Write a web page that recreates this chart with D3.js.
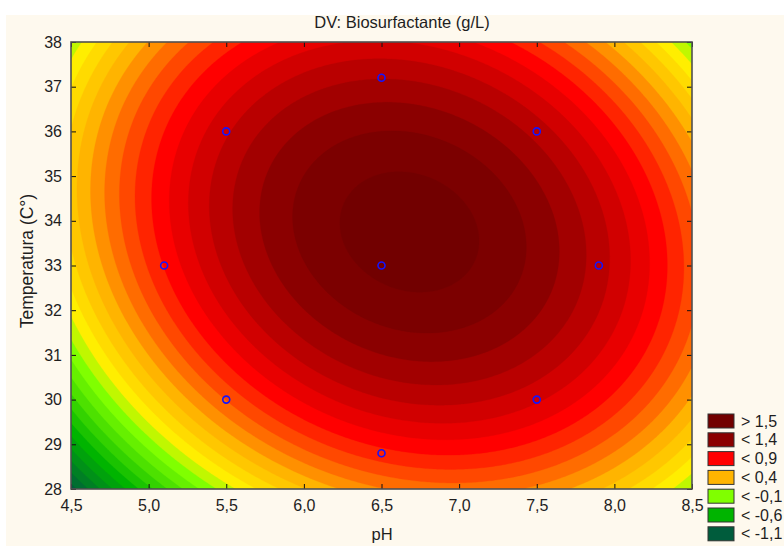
<!DOCTYPE html>
<html>
<head>
<meta charset="utf-8">
<script src="https://cdn.jsdelivr.net/npm/d3@7"></script>
<style>
  body { margin: 0; background: #ffffff; }
  text { font-family: "Liberation Sans", Arial, sans-serif; fill: #1e1e1e; }
</style>
</head>
<body>
<div id="chart"></div>
<script>
// fitted response surface (centred quadratic)
const surfaceCenter = [6.68, 33.75];            // pH, temperature of the peak
const surfaceCoef = [1.555, 0.28, 0.031, 0.028]; // peak, pH^2, T^2, pH*T

// contour levels (g/L)
const levels = [-1.1, -1.0, -0.9, -0.8, -0.7, -0.6, -0.5, -0.4, -0.3, -0.2, -0.1,
  0.0, 0.1, 0.2, 0.3, 0.4, 0.5, 0.6, 0.7, 0.8, 0.9, 1.0, 1.1, 1.2, 1.3, 1.4, 1.5];

// experimental design points
const designPH = [5.1, 5.5, 5.5, 6.5, 6.5, 6.5, 7.5, 7.5, 7.9];
const designT = [33, 30, 36, 28.8, 33, 37.2, 30, 36, 33];

// axis ticks
const phTicks = [4.5, 5.0, 5.5, 6.0, 6.5, 7.0, 7.5, 8.0, 8.5];
const tempTicks = [28, 29, 30, 31, 32, 33, 34, 35, 36, 37, 38];

// legend
const legendValues = [1.5, 1.4, 0.9, 0.4, -0.1, -0.6, -1.1];
const legendLabels = ["> 1,5", "< 1,4", "< 0,9", "< 0,4", "< -0,1", "< -0,6", "< -1,1"];

const WIDTH = 784;
const HEIGHT = 546;
const PLOT_LEFT = 71, PLOT_RIGHT = 692, PLOT_TOP = 42, PLOT_BOTTOM = 489;
const plotW = PLOT_RIGHT - PLOT_LEFT, plotH = PLOT_BOTTOM - PLOT_TOP;

const svg = d3.select("#chart")
  .append("svg")
  .attr("width", WIDTH)
  .attr("height", HEIGHT);

svg.append("rect")
  .attr("x", 6).attr("y", 15)
  .attr("width", WIDTH - 6).attr("height", HEIGHT - 15)
  .attr("fill", "#fef9ee");

const xScale = d3.scaleLinear().domain([4.5, 8.5]).range([PLOT_LEFT, PLOT_RIGHT]);
const yScale = d3.scaleLinear().domain([28, 38]).range([PLOT_BOTTOM, PLOT_TOP]);

// band colour by upper bound of the band
const bandColor = d3.scaleLinear()
  .domain([-1.1, -0.6, -0.1, 0.1, 0.4, 0.9, 1.4, 1.5])
  .range(["#005c3c", "#00b400", "#80ff00", "#ffee00", "#ffb400", "#ff0000", "#8b0000", "#7c0000"])
  .clamp(true);
const topColor = "#720000";

function surface(ph, t) {
  const u = ph - surfaceCenter[0];
  const v = t - surfaceCenter[1];
  return surfaceCoef[0] - surfaceCoef[1] * u * u - surfaceCoef[2] * v * v - surfaceCoef[3] * u * v;
}

// sample the surface on a grid over the plot area
const nx = 311, ny = 224;
const values = new Array(nx * ny);
for (let j = 0; j < ny; j++) {
  for (let i = 0; i < nx; i++) {
    const ph = xScale.invert(PLOT_LEFT + (i + 0.5) / nx * plotW);
    const t = yScale.invert(PLOT_TOP + (j + 0.5) / ny * plotH);
    values[j * nx + i] = surface(ph, t);
  }
}

const contours = d3.contours().size([nx, ny]).thresholds(levels)(values);

svg.append("clipPath").attr("id", "plot-clip")
  .append("rect").attr("x", PLOT_LEFT).attr("y", PLOT_TOP).attr("width", plotW).attr("height", plotH);

const plot = svg.append("g").attr("clip-path", "url(#plot-clip)");

plot.append("rect")
  .attr("x", PLOT_LEFT).attr("y", PLOT_TOP).attr("width", plotW).attr("height", plotH)
  .attr("fill", bandColor(-1.1));

const path = d3.geoPath(d3.geoIdentity().scale(plotW / nx));
const scaleY = plotH / ny / (plotW / nx);

plot.append("g")
  .attr("transform", `translate(${PLOT_LEFT},${PLOT_TOP}) scale(1,${scaleY})`)
  .selectAll("path")
  .data(contours)
  .enter()
  .append("path")
  .attr("d", path)
  .attr("fill", (d, i) => (i + 1 < levels.length ? bandColor(levels[i + 1]) : topColor))
  .attr("stroke", (d, i) => (i + 1 < levels.length ? bandColor(levels[i + 1]) : topColor))
  .attr("stroke-width", 0.3);

// design points
svg.append("g")
  .selectAll("circle")
  .data(designPH)
  .enter()
  .append("circle")
  .attr("cx", (d) => xScale(d))
  .attr("cy", (d, i) => yScale(designT[i]))
  .attr("r", 3.5)
  .attr("fill", "none")
  .attr("stroke", "#1414ff")
  .attr("stroke-width", 1.6);

// axes (ticks pointing inwards on all sides)
const fmt = (d) => d3.format(".1f")(d).replace(".", ",");

svg.append("g")
  .attr("transform", `translate(0,${PLOT_BOTTOM})`)
  .call(d3.axisBottom(xScale).tickValues(phTicks).tickFormat(fmt).tickSize(-5).tickPadding(11));
svg.append("g")
  .attr("transform", `translate(0,${PLOT_TOP})`)
  .call(d3.axisTop(xScale).tickValues(phTicks).tickFormat("").tickSize(-5));
svg.append("g")
  .attr("transform", `translate(${PLOT_LEFT},0)`)
  .call(d3.axisLeft(yScale).tickValues(tempTicks).tickSize(-5).tickPadding(9));
svg.append("g")
  .attr("transform", `translate(${PLOT_RIGHT},0)`)
  .call(d3.axisRight(yScale).tickValues(tempTicks).tickFormat("").tickSize(-5));

svg.selectAll(".domain").remove();
svg.selectAll(".tick line").attr("stroke", "#111");
svg.selectAll(".tick text").style("font-size", "16px").attr("fill", "#1e1e1e");

svg.append("rect")
  .attr("x", PLOT_LEFT).attr("y", PLOT_TOP).attr("width", plotW).attr("height", plotH)
  .attr("fill", "none")
  .attr("stroke", "#505050")
  .attr("stroke-width", 1.6);

// titles
svg.append("text")
  .attr("x", 402).attr("y", 28)
  .attr("text-anchor", "middle")
  .style("font-size", "16.5px")
  .text("DV: Biosurfactante (g/L)");

svg.append("text")
  .attr("x", 382).attr("y", 540)
  .attr("text-anchor", "middle")
  .style("font-size", "16.5px")
  .text("pH");

svg.append("text")
  .attr("transform", "translate(33,261) rotate(-90)")
  .attr("text-anchor", "middle")
  .style("font-size", "17.5px")
  .text("Temperatura (C°)");

// legend
const legend = svg.append("g")
  .selectAll("g")
  .data(legendValues)
  .enter()
  .append("g")
  .attr("transform", (d, i) => `translate(708,${414 + i * 18.8})`);

legend.append("rect")
  .attr("width", 26).attr("height", 14)
  .attr("fill", (d, i) => (i === 0 ? topColor : bandColor(d)))
  .attr("stroke", "#333")
  .attr("stroke-width", 1);

legend.append("text")
  .attr("x", 33).attr("y", 12.5)
  .style("font-size", "16px")
  .text((d, i) => legendLabels[i]);
</script>
</body>
</html>
